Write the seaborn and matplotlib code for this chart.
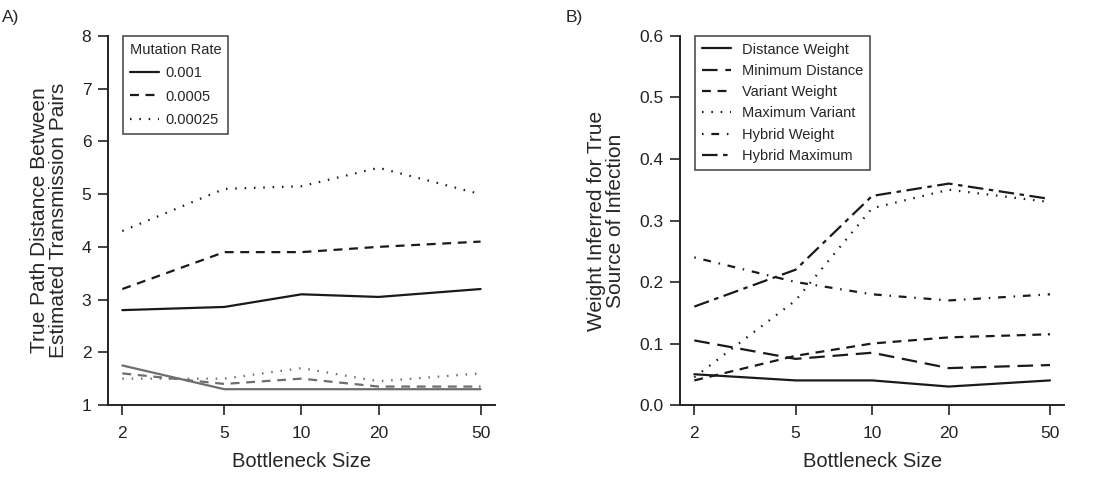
import numpy as np
import pandas as pd
import seaborn as sns
import matplotlib.pyplot as plt
from matplotlib.ticker import FixedLocator, NullLocator

""" Bottleneck size vs. transmission inference """

bottleneck = [2, 5, 10, 20, 50]

# panel A - true path distance (black = estimated pairs, gray = second set)
rates = ["0.001", "0.0005", "0.00025"]
dist_black = {
    "0.001": [2.8, 2.86, 3.1, 3.05, 3.2],
    "0.0005": [3.2, 3.9, 3.9, 4.0, 4.1],
    "0.00025": [4.3, 5.1, 5.15, 5.5, 5.0],
}
dist_gray = {
    "0.001": [1.75, 1.3, 1.3, 1.3, 1.3],
    "0.0005": [1.6, 1.4, 1.5, 1.35, 1.35],
    "0.00025": [1.5, 1.5, 1.7, 1.45, 1.6],
}

# panel B - weight inferred for the true source
methods = ["Distance Weight", "Minimum Distance", "Variant Weight",
           "Maximum Variant", "Hybrid Weight", "Hybrid Maximum"]
weights = {
    "Distance Weight": [0.05, 0.04, 0.04, 0.03, 0.04],
    "Minimum Distance": [0.105, 0.075, 0.085, 0.06, 0.065],
    "Variant Weight": [0.04, 0.08, 0.10, 0.11, 0.115],
    "Maximum Variant": [0.045, 0.17, 0.32, 0.35, 0.33],
    "Hybrid Weight": [0.24, 0.20, 0.18, 0.17, 0.18],
    "Hybrid Maximum": [0.16, 0.22, 0.34, 0.36, 0.335],
}

rate_dashes = {"0.001": "", "0.0005": (4, 3), "0.00025": (0.7, 3.5)}
method_dashes = {
    "Distance Weight": "",
    "Minimum Distance": (7, 3.5),
    "Variant Weight": (4, 3),
    "Maximum Variant": (0.7, 3.5),
    "Hybrid Weight": (0.7, 3.5, 3.5, 3.5),
    "Hybrid Maximum": (7, 2.5, 2, 2.5),
}


def long_df(d, key):
    rows = []
    for k, vals in d.items():
        for b, v in zip(bottleneck, vals):
            rows.append({"Bottleneck Size": b, key: k, "value": v})
    return pd.DataFrame(rows)


df_a_black = long_df(dist_black, "Mutation Rate")
df_a_gray = long_df(dist_gray, "Mutation Rate")
df_b = long_df(weights, "Method")

sns.set_theme(style="ticks")
plt.rcParams['font.family'] = ['Liberation Sans', 'DejaVu Sans']
plt.rcParams['xtick.major.size'] = 7
plt.rcParams['ytick.major.size'] = 7
plt.rcParams['xtick.major.width'] = 1.2
plt.rcParams['ytick.major.width'] = 1.2

fig = plt.figure(figsize=(11.04, 4.78), dpi=100)
ax_a = fig.add_axes([0.0978, 0.1527, 0.3505, 0.772])
ax_b = fig.add_axes([0.616, 0.1527, 0.348, 0.772])

lw = 1.6
sns.lineplot(data=df_a_gray, x="Bottleneck Size", y="value", style="Mutation Rate",
             style_order=rates, dashes=rate_dashes, color="#6e6e6e", lw=lw,
             legend=False, ax=ax_a)
sns.lineplot(data=df_a_black, x="Bottleneck Size", y="value", style="Mutation Rate",
             style_order=rates, dashes=rate_dashes, color="#1a1a1a", lw=lw, ax=ax_a)
sns.lineplot(data=df_b, x="Bottleneck Size", y="value", style="Method",
             style_order=methods, dashes=method_dashes, color="#1a1a1a", lw=lw, ax=ax_b)

xmin = 10 ** (np.log10(2) - 0.056)
xmax = 10 ** (np.log10(50) + 0.056)
for ax in (ax_a, ax_b):
    ax.set_xscale("log")
    ax.set_xlim(xmin, xmax)
    ax.xaxis.set_major_locator(FixedLocator(bottleneck))
    ax.xaxis.set_minor_locator(NullLocator())
    ax.set_xticklabels([str(b) for b in bottleneck])
    ax.set_xlabel("Bottleneck Size", fontsize=14.5, labelpad=8)
    ax.tick_params(labelsize=12.5, colors="#222222", pad=5)
    ax.tick_params(axis="x", pad=8)
    for s in ("top", "right"):
        ax.spines[s].set_visible(False)
    for s in ("left", "bottom"):
        ax.spines[s].set_linewidth(1.4)
        ax.spines[s].set_color("#222222")

ax_a.set_ylim(1, 8)
ax_a.set_yticks(range(1, 9))
ax_a.set_ylabel("True Path Distance Between\nEstimated Transmission Pairs", fontsize=15,
                linespacing=1.0, labelpad=10)
ax_b.set_ylim(0, 0.6)
ax_b.set_yticks(np.arange(0, 0.61, 0.1))
ax_b.set_yticklabels([f"{v:.1f}" for v in np.arange(0, 0.61, 0.1)])
ax_b.set_ylabel("Weight Inferred for True\nSource of Infection", fontsize=15,
                linespacing=1.0, labelpad=10)

leg_a = ax_a.legend(title="Mutation Rate", loc="upper left", bbox_to_anchor=(0.04, 1.0),
                    borderaxespad=0, fontsize=10.5, title_fontsize=10.5, frameon=True,
                    fancybox=False, handlelength=2.0, borderpad=0.45, labelspacing=0.65,
                    handletextpad=0.4)
leg_a._legend_box.align = "left"
leg_a.get_frame().set_edgecolor("#222222")
leg_a.get_frame().set_linewidth(1.2)

leg_b = ax_b.legend(loc="upper left", bbox_to_anchor=(0.04, 1.0), borderaxespad=0,
                    fontsize=10.5, frameon=True, fancybox=False,
                    handlelength=2.0, borderpad=0.45, labelspacing=0.5, handletextpad=0.75)
leg_b.get_frame().set_edgecolor("#222222")
leg_b.get_frame().set_linewidth(1.2)

fig.text(0.002, 0.955, "A)", fontsize=12.5)
fig.text(0.512, 0.955, "B)", fontsize=12.5)

plt.savefig("out.png", dpi=100)
